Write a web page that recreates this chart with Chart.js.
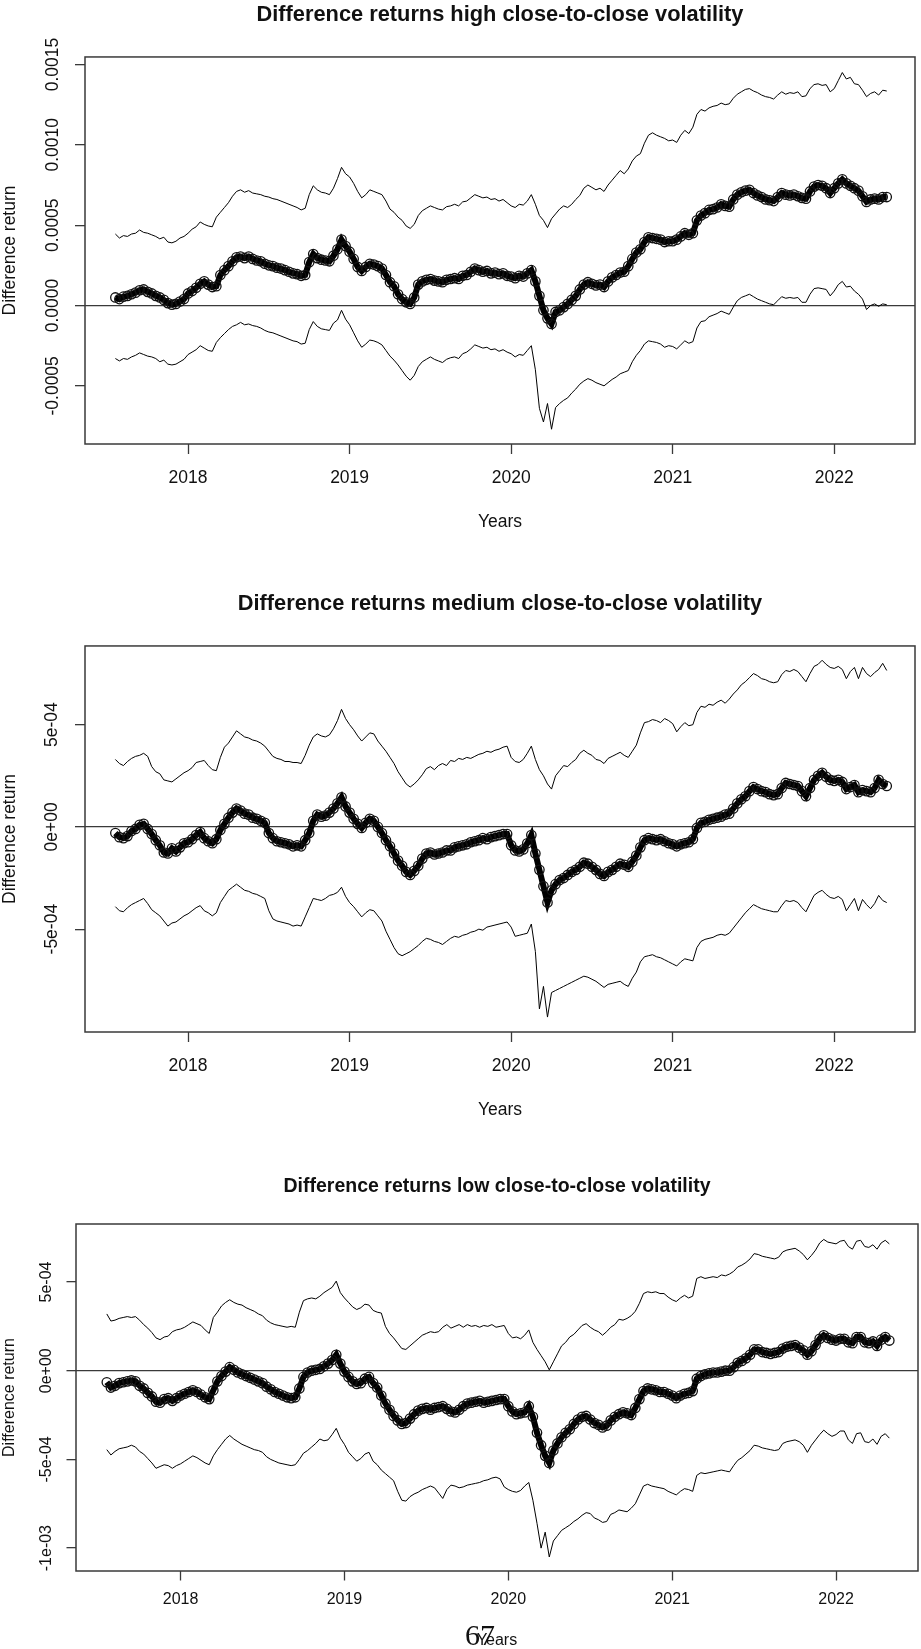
<!DOCTYPE html>
<html>
<head>
<meta charset="utf-8">
<title>Difference returns by close-to-close volatility</title>
<script src="https://cdn.jsdelivr.net/npm/chart.js@4.4.1/dist/chart.umd.min.js"></script>
<style>
  html, body { margin: 0; padding: 0; background: #fff; width: 921px; height: 1649px; overflow: hidden; }
  canvas { position: absolute; left: 0; }
  #chartHigh { top: 0; }
  #chartMed { top: 580px; }
  #chartLow { top: 1160px; }
  .page-no { position: absolute; left: 465px; top: 1620px; font-family: 'Liberation Serif', 'DejaVu Serif', serif; font-size: 30px; line-height: 30px; color: #111; }
</style>
</head>
<body>
<canvas id="chartHigh" width="921" height="560"></canvas>
<canvas id="chartMed" width="921" height="560"></canvas>
<canvas id="chartLow" width="924" height="495"></canvas>
<div class="page-no">67</div>
<script>
// Time axis: regular sampling in decimal years
const START_YEAR = 2017.55;
const STEP_YEARS = 0.025;
const YEAR_TICKS = [2018, 2019, 2020, 2021, 2022];

// All series values below are written in units of 1e-4
const UNIT = 1e-4;

// ---- High close-to-close volatility ----
const HIGH_UPPER = [
  4.45, 4.2, 4.35, 4.3, 4.45, 4.5, 4.7, 4.55, 4.5, 4.4, 4.3, 4.15, 4.25, 3.95, 3.9, 4.0, 4.2, 4.3,
  4.5, 4.75, 4.9, 5.2, 5.05, 4.95, 4.9, 5.5, 5.8, 6.1, 6.4, 6.8, 7.1, 7.2, 7.05, 7.15, 7.0, 6.95, 6.9, 6.8, 6.75, 6.65, 6.6, 6.5, 6.4, 6.3, 6.2, 6.1, 5.95, 6.05, 6.9, 7.45, 7.2, 7.05, 7.0, 6.9, 7.3, 7.9, 8.6, 8.2,
  8.0, 7.6, 7.1, 6.7, 6.9, 7.2, 7.1, 7.0, 6.9, 6.5, 6.0, 5.8, 5.5, 5.3, 4.95, 4.8, 5.05, 5.6, 5.9, 6.05, 6.2, 6.1, 6.0, 5.95, 6.15, 6.2, 6.3, 6.2, 6.45, 6.5, 6.7, 6.9, 6.8, 6.7, 6.75, 6.6, 6.65, 6.5, 6.6, 6.4,
  6.2, 6.1, 6.3, 6.25, 6.5, 6.9, 6.3, 5.6, 5.3, 4.85, 5.4, 5.7, 6.0, 6.2, 6.1, 6.3, 6.6, 6.85, 7.3, 7.5, 7.35, 7.2, 7.3, 7.1, 7.5, 7.8, 8.1, 8.4, 8.2, 8.5, 9.0, 9.3, 9.45, 10.1, 10.6, 10.75, 10.6, 10.5, 10.4, 10.25,
  10.3, 10.15, 10.6, 10.9, 10.7, 11.1, 11.9, 12.2, 12.1, 12.3, 12.4, 12.45, 12.6, 12.5, 12.55, 12.9, 13.15, 13.3, 13.45, 13.5, 13.35, 13.25, 13.1, 13.0, 12.95, 12.85, 13.1, 13.3, 13.15, 13.25, 13.2, 13.3, 13.0, 13.05, 13.5, 13.75, 13.8, 13.7, 13.75, 13.3,
  13.5, 14.0, 14.5, 14.1, 14.2, 13.8, 13.75, 13.4, 13.0, 13.2, 13.3, 13.1, 13.4, 13.35
];
const HIGH_MID = [
  0.5, 0.4, 0.55, 0.6, 0.7, 0.8, 0.95, 1.0, 0.85, 0.75, 0.6, 0.5, 0.35, 0.15, 0.05, 0.1, 0.25, 0.4,
  0.75, 0.9, 1.1, 1.35, 1.5, 1.3, 1.15, 1.2, 1.9, 2.2, 2.45, 2.75, 3.0, 3.05, 2.95, 3.05, 2.9, 2.8, 2.75, 2.6, 2.5, 2.45, 2.35, 2.3, 2.2, 2.1, 2.0, 1.95, 1.85, 1.9, 2.7, 3.2, 2.95, 2.85, 2.8, 2.75, 3.1, 3.5, 4.1, 3.7,
  3.35, 2.9, 2.4, 2.15, 2.4, 2.6, 2.55, 2.45, 2.3, 1.9, 1.45, 1.2, 0.7, 0.4, 0.2, 0.1, 0.5, 1.3, 1.5, 1.6, 1.65, 1.55, 1.5, 1.45, 1.6, 1.65, 1.7, 1.65, 1.85, 1.9, 2.1, 2.3, 2.2, 2.1, 2.15, 2.0, 2.05, 1.95, 2.0, 1.85,
  1.8, 1.7, 1.85, 1.8, 2.0, 2.2, 1.5, 0.6, -0.3, -0.8, -1.15, -0.4, -0.3, -0.1, 0.1, 0.35, 0.6, 1.0, 1.3, 1.45, 1.35, 1.25, 1.3, 1.15, 1.5, 1.75, 1.9, 2.05, 2.1, 2.45, 2.9, 3.3, 3.5, 3.95, 4.25, 4.2, 4.15, 4.1, 3.95, 4.0,
  4.0, 4.1, 4.3, 4.5, 4.4, 4.5, 5.3, 5.6, 5.75, 5.95, 6.0, 6.1, 6.3, 6.2, 6.15, 6.6, 6.9, 7.05, 7.15, 7.2, 7.0, 6.85, 6.75, 6.6, 6.55, 6.5, 6.75, 7.0, 6.9, 6.85, 6.9, 6.8, 6.7, 6.65, 7.1, 7.4, 7.5, 7.45, 7.3, 7.0,
  7.3, 7.6, 7.85, 7.6, 7.45, 7.3, 7.15, 6.8, 6.45, 6.6, 6.65, 6.6, 6.75, 6.75
];
const HIGH_LOWER = [
  -3.3, -3.45, -3.3, -3.35, -3.2, -3.1, -2.95, -3.05, -3.15, -3.2, -3.3, -3.5, -3.4, -3.65, -3.7, -3.65, -3.5, -3.35,
  -3.05, -2.9, -2.75, -2.5, -2.65, -2.8, -2.85, -2.3, -2.0, -1.75, -1.5, -1.3, -1.2, -1.05, -1.2, -1.15, -1.25, -1.3, -1.4, -1.55, -1.65, -1.7, -1.8, -1.9, -2.0, -2.1, -2.2, -2.25, -2.4, -2.35, -1.5, -1.0, -1.3, -1.45, -1.5, -1.55, -1.1, -0.9, -0.3, -0.85,
  -1.2, -1.7, -2.2, -2.6, -2.4, -2.15, -2.2, -2.3, -2.45, -2.8, -3.15, -3.4, -3.7, -4.05, -4.4, -4.65, -4.35, -3.8, -3.5, -3.35, -3.2, -3.35, -3.45, -3.55, -3.35, -3.25, -3.2, -3.3, -3.0, -2.9, -2.7, -2.45, -2.55, -2.65, -2.6, -2.75, -2.7, -2.85, -2.75, -2.9,
  -3.0, -3.2, -3.05, -3.1, -2.8, -2.5, -4.0, -6.4, -7.25, -6.1, -7.7, -6.35, -6.1, -5.9, -5.75, -5.45, -5.2, -4.9, -4.7, -4.55, -4.65, -4.8, -4.9, -5.0, -4.8, -4.6, -4.45, -4.25, -4.15, -4.05, -3.5, -3.1, -2.8, -2.4, -2.2, -2.25, -2.3, -2.4, -2.6, -2.5,
  -2.55, -2.7, -2.45, -2.2, -2.35, -2.25, -1.4, -1.0, -0.95, -0.7, -0.6, -0.5, -0.35, -0.45, -0.55, -0.1, 0.3, 0.5, 0.6, 0.7, 0.55, 0.4, 0.3, 0.2, 0.1, 0.05, 0.3, 0.55, 0.45, 0.5, 0.45, 0.5, 0.2, 0.2, 0.7, 1.05, 1.1, 1.05, 1.0, 0.6,
  0.9, 1.3, 1.5, 1.15, 1.2, 0.9, 0.7, 0.4, -0.25, 0.0, 0.1, -0.05, 0.1, 0.05
];
const HIGH_Y_TICKS = [-0.0005, 0, 0.0005, 0.001, 0.0015];
const HIGH_Y_LABELS = ['-0.0005', '0.0000', '0.0005', '0.0010', '0.0015'];

// ---- Medium close-to-close volatility ----
const MED_UPPER = [
  3.3, 3.1, 3.0, 3.2, 3.35, 3.45, 3.5, 3.6, 3.45, 2.95, 2.7, 2.6, 2.3, 2.25, 2.2, 2.35, 2.5, 2.65,
  2.75, 2.9, 3.15, 3.2, 3.25, 3.0, 2.8, 2.75, 3.4, 3.9, 4.1, 4.4, 4.7, 4.55, 4.4, 4.35, 4.25, 4.2, 4.1, 3.95, 3.7, 3.45, 3.35, 3.3, 3.2, 3.2, 3.15, 3.15, 3.1, 3.5, 4.0, 4.4, 4.55, 4.45, 4.4, 4.5, 4.8, 5.2, 5.75, 5.3,
  5.0, 4.75, 4.45, 4.2, 4.4, 4.6, 4.55, 4.2, 3.95, 3.7, 3.4, 3.1, 2.7, 2.4, 2.1, 1.95, 2.1, 2.3, 2.55, 2.85, 2.95, 2.8, 3.0, 3.1, 3.0, 3.25, 3.2, 3.35, 3.3, 3.4, 3.35, 3.45, 3.55, 3.6, 3.7, 3.65, 3.75, 3.8, 3.9, 3.95,
  3.4, 3.2, 3.15, 3.3, 3.6, 3.95, 3.3, 2.8, 2.5, 2.1, 1.85, 2.5, 2.75, 3.0, 2.95, 3.15, 3.3, 3.6, 3.75, 3.6, 3.5, 3.3, 3.25, 3.1, 3.35, 3.45, 3.55, 3.65, 3.5, 3.4, 3.7, 4.0, 4.6, 5.1, 5.15, 5.25, 5.2, 5.1, 5.3, 5.2,
  5.05, 4.65, 4.9, 5.1, 4.95, 5.0, 5.6, 5.9, 5.85, 6.0, 5.95, 6.1, 6.2, 6.05, 6.25, 6.5, 6.7, 6.95, 7.1, 7.3, 7.5, 7.4, 7.25, 7.2, 7.1, 7.05, 7.1, 7.45, 7.65, 7.6, 7.7, 7.6, 7.35, 7.1, 7.5, 7.85, 7.95, 8.15, 7.95, 7.8,
  7.75, 7.85, 7.7, 7.25, 7.6, 7.8, 7.25, 7.8, 7.5, 7.35, 7.55, 7.7, 8.0, 7.65
];
const MED_MID = [
  -0.3, -0.5, -0.55, -0.45, -0.2, -0.1, 0.1, 0.15, -0.1, -0.35, -0.65, -0.9, -1.25, -1.3, -1.05, -1.2, -1.0, -0.8,
  -0.75, -0.6, -0.4, -0.25, -0.55, -0.7, -0.8, -0.6, -0.15, 0.15, 0.45, 0.7, 0.9, 0.8, 0.65, 0.6, 0.45, 0.4, 0.3, 0.2, -0.3, -0.55, -0.7, -0.75, -0.8, -0.85, -0.95, -0.9, -0.95, -0.65, -0.3, 0.3, 0.6, 0.5, 0.55, 0.7, 0.9, 1.15, 1.45, 1.0,
  0.7, 0.4, 0.15, -0.05, 0.2, 0.4, 0.3, 0.0, -0.3, -0.65, -0.95, -1.3, -1.65, -1.9, -2.2, -2.35, -2.15, -1.9, -1.55, -1.3, -1.25, -1.35, -1.3, -1.25, -1.15, -1.15, -1.0, -0.95, -0.9, -0.85, -0.75, -0.7, -0.65, -0.55, -0.6, -0.5, -0.45, -0.4, -0.35, -0.35,
  -0.9, -1.15, -1.2, -1.1, -0.8, -0.4, -1.3, -2.1, -2.9, -3.7, -3.1, -2.8, -2.6, -2.5, -2.35, -2.2, -2.1, -1.95, -1.75, -1.8, -1.95, -2.1, -2.3, -2.4, -2.2, -2.1, -1.95, -1.8, -1.85, -1.95, -1.7, -1.4, -1.0, -0.65, -0.55, -0.6, -0.65, -0.6, -0.7, -0.8,
  -0.85, -0.95, -0.85, -0.8, -0.75, -0.6, -0.05, 0.2, 0.25, 0.35, 0.4, 0.45, 0.5, 0.6, 0.65, 0.9, 1.15, 1.35, 1.5, 1.75, 1.95, 1.85, 1.75, 1.7, 1.6, 1.55, 1.6, 1.9, 2.15, 2.1, 2.05, 2.0, 1.75, 1.5, 1.9, 2.3, 2.5, 2.65, 2.45, 2.3,
  2.25, 2.3, 2.2, 1.85, 1.95, 2.05, 1.7, 1.8, 1.75, 1.7, 1.9, 2.3, 2.1, 2.0
];
const MED_LOWER = [
  -3.9, -4.1, -4.15, -3.95, -3.8, -3.7, -3.6, -3.5, -3.75, -4.05, -4.2, -4.35, -4.6, -4.85, -4.7, -4.65, -4.5, -4.35,
  -4.25, -4.1, -3.95, -3.85, -4.1, -4.2, -4.35, -4.2, -3.7, -3.4, -3.1, -2.95, -2.8, -2.95, -3.1, -3.15, -3.25, -3.3, -3.4, -3.5, -4.1, -4.5, -4.6, -4.65, -4.7, -4.75, -4.85, -4.8, -4.85, -4.4, -3.95, -3.5, -3.55, -3.6, -3.5, -3.35, -3.3, -3.2, -2.95, -3.4,
  -3.7, -3.9, -4.15, -4.4, -4.2, -4.05, -4.1, -4.35, -4.6, -5.1, -5.5, -5.9, -6.2, -6.3, -6.2, -6.1, -5.95, -5.8, -5.6, -5.45, -5.5, -5.6, -5.65, -5.75, -5.6, -5.45, -5.35, -5.4, -5.3, -5.25, -5.15, -5.1, -5.0, -5.05, -4.9, -4.85, -4.8, -4.75, -4.7, -4.65,
  -4.9, -5.35, -5.3, -5.25, -5.2, -4.75, -6.1, -8.9, -7.8, -9.3, -8.1, -8.0, -7.9, -7.8, -7.7, -7.6, -7.5, -7.4, -7.3, -7.35, -7.45, -7.55, -7.7, -7.85, -7.7, -7.65, -7.6, -7.55, -7.7, -7.8, -7.4, -7.1, -6.6, -6.35, -6.3, -6.25, -6.35, -6.4, -6.5, -6.6,
  -6.7, -6.8, -6.6, -6.45, -6.5, -6.55, -5.9, -5.6, -5.5, -5.45, -5.4, -5.3, -5.25, -5.3, -5.2, -4.95, -4.7, -4.45, -4.2, -4.0, -3.8, -3.9, -4.0, -4.05, -4.1, -4.15, -4.15, -3.85, -3.6, -3.65, -3.6, -3.7, -3.95, -4.15, -3.75, -3.35, -3.2, -3.1, -3.3, -3.45,
  -3.5, -3.4, -3.55, -4.1, -3.8, -3.5, -4.1, -3.55, -3.8, -4.0, -3.75, -3.35, -3.6, -3.7
];
const MED_Y_TICKS = [-0.0005, 0, 0.0005];
const MED_Y_LABELS = ['-5e-04', '0e+00', '5e-04'];

// ---- Low close-to-close volatility ----
const LOW_UPPER = [
  3.2, 2.8, 2.85, 2.95, 3.0, 3.05, 3.0, 3.05, 2.85, 2.6, 2.4, 2.15, 1.85, 1.75, 1.9, 1.95, 2.2, 2.3,
  2.35, 2.45, 2.6, 2.75, 2.65, 2.55, 2.3, 2.1, 3.0, 3.3, 3.65, 3.85, 4.0, 3.85, 3.75, 3.7, 3.55, 3.45, 3.35, 3.2, 3.1, 2.85, 2.7, 2.6, 2.55, 2.5, 2.45, 2.5, 2.45, 3.3, 3.95, 4.05, 4.1, 4.05, 4.2, 4.4, 4.55, 4.7, 5.05, 4.4,
  4.1, 3.85, 3.6, 3.45, 3.55, 3.75, 3.7, 3.4, 3.3, 3.25, 2.5, 2.1, 1.85, 1.55, 1.25, 1.2, 1.4, 1.6, 1.8, 2.0, 2.1, 2.2, 2.15, 2.2, 2.45, 2.6, 2.4, 2.5, 2.6, 2.45, 2.6, 2.5, 2.55, 2.45, 2.55, 2.5, 2.6, 2.45, 2.5, 2.55,
  2.1, 1.85, 1.9, 1.8, 2.0, 2.3, 1.6, 1.2, 0.85, 0.5, 0.05, 0.5, 0.95, 1.4, 1.6, 1.9, 2.05, 2.3, 2.55, 2.65, 2.45, 2.3, 2.2, 2.0, 2.2, 2.45, 2.6, 2.9, 2.85, 2.95, 3.1, 3.35, 3.8, 4.35, 4.45, 4.4, 4.45, 4.35, 4.35, 4.15,
  4.0, 3.9, 4.1, 4.25, 4.1, 4.2, 5.2, 5.3, 5.2, 5.25, 5.3, 5.25, 5.4, 5.35, 5.45, 5.6, 5.85, 5.95, 6.1, 6.3, 6.6, 6.55, 6.45, 6.4, 6.35, 6.3, 6.4, 6.7, 6.8, 6.85, 6.9, 6.75, 6.55, 6.25, 6.5, 6.8, 7.2, 7.4, 7.25, 7.2,
  7.15, 7.3, 7.35, 7.0, 6.85, 7.3, 7.35, 7.0, 6.95, 7.1, 6.85, 7.2, 7.35, 7.15
];
const LOW_MID = [
  -0.65, -0.95, -0.85, -0.7, -0.65, -0.6, -0.55, -0.6, -0.85, -1.0, -1.25, -1.45, -1.75, -1.8, -1.6, -1.55, -1.7, -1.55,
  -1.4, -1.3, -1.2, -1.1, -1.2, -1.35, -1.5, -1.6, -1.1, -0.6, -0.3, -0.05, 0.2, 0.05, -0.1, -0.2, -0.3, -0.4, -0.5, -0.6, -0.7, -0.9, -1.05, -1.2, -1.3, -1.4, -1.5, -1.55, -1.5, -1.0, -0.35, -0.1, 0.0, 0.05, 0.1, 0.25, 0.4, 0.6, 0.9, 0.4,
  -0.05, -0.35, -0.6, -0.75, -0.7, -0.45, -0.35, -0.7, -0.95, -1.4, -1.85, -2.2, -2.55, -2.8, -3.0, -2.95, -2.7, -2.45, -2.25, -2.15, -2.1, -2.2, -2.1, -2.05, -2.0, -2.15, -2.3, -2.35, -2.2, -2.0, -1.85, -1.8, -1.75, -1.7, -1.8, -1.75, -1.7, -1.65, -1.6, -1.6,
  -2.0, -2.3, -2.45, -2.4, -2.35, -2.0, -2.6, -3.5, -4.2, -4.8, -5.2, -4.5, -4.1, -3.75, -3.5, -3.3, -3.0, -2.75, -2.6, -2.55, -2.75, -2.95, -3.05, -3.2, -3.1, -2.8, -2.6, -2.45, -2.35, -2.4, -2.5, -2.1, -1.6, -1.15, -1.0, -1.05, -1.1, -1.2, -1.2, -1.3,
  -1.4, -1.55, -1.4, -1.3, -1.25, -1.15, -0.45, -0.3, -0.2, -0.15, -0.1, -0.1, -0.05, 0.0, 0.0, 0.2, 0.45, 0.55, 0.7, 0.9, 1.2, 1.2, 1.05, 1.0, 0.95, 1.0, 1.05, 1.25, 1.35, 1.4, 1.45, 1.3, 1.15, 0.9, 1.1, 1.45, 1.8, 2.0, 1.85, 1.75,
  1.7, 1.8, 1.8, 1.6, 1.55, 1.9, 1.9, 1.6, 1.55, 1.65, 1.4, 1.75, 1.9, 1.7
];
const LOW_LOWER = [
  -4.45, -4.75, -4.55, -4.4, -4.35, -4.3, -4.2, -4.3, -4.55, -4.7, -4.95, -5.2, -5.5, -5.4, -5.3, -5.35, -5.5, -5.35,
  -5.25, -5.1, -4.95, -4.8, -4.9, -5.05, -5.2, -5.3, -4.8, -4.45, -4.15, -3.85, -3.65, -3.85, -4.0, -4.15, -4.25, -4.35, -4.45, -4.5, -4.6, -4.85, -5.0, -5.1, -5.2, -5.25, -5.3, -5.35, -5.3, -5.0, -4.65, -4.5, -4.3, -4.1, -3.85, -3.95, -3.9, -3.6, -3.25, -3.8,
  -4.15, -4.6, -4.85, -5.1, -4.95, -4.7, -4.6, -5.1, -5.3, -5.6, -5.8, -6.0, -6.2, -6.8, -7.3, -7.35, -7.1, -6.95, -6.85, -6.7, -6.6, -6.5, -6.6, -6.9, -7.2, -6.7, -6.45, -6.5, -6.6, -6.55, -6.45, -6.4, -6.35, -6.3, -6.2, -6.15, -6.05, -6.0, -6.1, -6.55,
  -6.7, -6.8, -6.85, -6.75, -6.5, -6.3, -7.3, -8.6, -10.0, -9.1, -10.5, -9.6, -9.3, -9.0, -8.85, -8.7, -8.5, -8.35, -8.15, -8.0, -8.05, -8.3, -8.4, -8.55, -8.5, -8.1, -8.0, -7.85, -7.9, -7.95, -7.75, -7.5, -7.0, -6.5, -6.4, -6.5, -6.55, -6.6, -6.65, -6.8,
  -6.9, -7.0, -6.8, -6.65, -6.7, -6.8, -5.9, -5.75, -5.8, -5.75, -5.7, -5.65, -5.6, -5.65, -5.7, -5.35, -5.05, -4.9, -4.7, -4.5, -4.2, -4.25, -4.35, -4.4, -4.45, -4.5, -4.45, -4.1, -4.0, -3.95, -3.9, -4.0, -4.2, -4.6, -4.2, -3.9, -3.6, -3.35, -3.55, -3.7,
  -3.6, -3.4, -3.4, -3.9, -4.1, -3.55, -3.5, -4.0, -4.05, -3.85, -4.15, -3.7, -3.55, -3.8
];
const LOW_Y_TICKS = [-0.001, -0.0005, 0, 0.0005];
const LOW_Y_LABELS = ['-1e-03', '-5e-04', '0e+00', '5e-04'];

const FONT = "'Liberation Sans', Arial, Helvetica, sans-serif";
const INK = '#111';
const AXIS_INK = '#3a3a3a';

// Draws the rotated y tick labels next to the library's own y ticks
const yTickLabels = {
  id: 'yTickLabels',
  afterDraw(chart, args, opts) {
    const { ctx, chartArea } = chart;
    const scale = chart.scales.y;
    ctx.save();
    ctx.font = opts.size + 'px ' + FONT;
    ctx.fillStyle = INK;
    ctx.textAlign = 'center';
    ctx.textBaseline = 'middle';
    scale.ticks.forEach((t, i) => {
      const py = scale.getPixelForValue(t.value);
      ctx.save();
      ctx.translate(chartArea.left - opts.offset, py);
      ctx.rotate(-Math.PI / 2);
      ctx.fillText(opts.labels[i], 0, 0);
      ctx.restore();
    });
    ctx.restore();
  }
};

// Frame around the plotting region
const plotBox = {
  id: 'plotBox',
  afterDraw(chart) {
    const { ctx, chartArea: a } = chart;
    ctx.save();
    ctx.strokeStyle = AXIS_INK;
    ctx.lineWidth = 1.5;
    ctx.strokeRect(a.left, a.top, a.right - a.left, a.bottom - a.top);
    ctx.restore();
  }
};

function toPoints(values) {
  return values.map((v, i) => ({ x: START_YEAR + i * STEP_YEARS, y: v * UNIT }));
}

function buildChart(id, p) {
  const tickFont = { family: FONT, size: p.tickSize };
  const lh = p.tickSize * 1.2;
  return new Chart(document.getElementById(id), {
    type: 'line',
    data: {
      datasets: [
        {
          data: toPoints(p.mid),
          borderColor: '#000',
          borderWidth: 6,
          pointRadius: 4.7,
          pointBorderWidth: 1.3,
          pointBorderColor: '#111',
          pointBackgroundColor: 'rgba(0,0,0,0)',
          tension: 0
        },
        { data: toPoints(p.upper), borderColor: '#000', borderWidth: 1, pointRadius: 0, tension: 0 },
        { data: toPoints(p.lower), borderColor: '#000', borderWidth: 1, pointRadius: 0, tension: 0 }
      ]
    },
    options: {
      responsive: false,
      animation: false,
      devicePixelRatio: 1,
      events: [],
      layout: { padding: { left: 0, right: p.padRight, top: 0, bottom: 0 } },
      plugins: {
        legend: { display: false },
        tooltip: { enabled: false },
        title: {
          display: true,
          text: p.title,
          fullSize: false,
          color: INK,
          font: { family: FONT, size: p.titleSize, weight: 'bold' },
          padding: { top: p.titleTop, bottom: p.titleBottom }
        },
        yTickLabels: { labels: p.yLabels, offset: p.yLabelOffset, size: p.tickSize }
      },
      scales: {
        x: {
          type: 'linear',
          min: 2017.362,
          max: 2022.5,
          afterBuildTicks: s => { s.ticks = YEAR_TICKS.map(v => ({ value: v })); },
          afterFit: s => { s.height = p.xAxisHeight; },
          border: { display: false },
          grid: { drawOnChartArea: false, drawTicks: true, tickLength: p.tickLen, tickColor: AXIS_INK, tickWidth: 1.3 },
          ticks: {
            font: tickFont,
            color: INK,
            padding: p.xLabelCenter - p.tickLen - lh / 2,
            maxRotation: 0,
            autoSkip: false,
            callback: v => String(v)
          },
          title: {
            display: true,
            text: 'Years',
            color: INK,
            font: tickFont,
            padding: { top: 0, bottom: p.yearsOffset - lh / 2 }
          }
        },
        y: {
          type: 'linear',
          min: p.yMin,
          max: p.yMax,
          afterBuildTicks: s => { s.ticks = p.yTicks.map(v => ({ value: v })); },
          afterFit: s => { s.width = p.yAxisWidth; },
          border: { display: false },
          grid: {
            drawOnChartArea: true,
            drawTicks: true,
            tickLength: p.tickLen,
            tickColor: AXIS_INK,
            tickWidth: 1.3,
            lineWidth: 1.3,
            color: c => (c.tick && c.tick.value === 0 ? AXIS_INK : 'rgba(0,0,0,0)')
          },
          ticks: { display: false },
          title: {
            display: true,
            text: 'Difference return',
            color: INK,
            font: tickFont,
            padding: { top: 0, bottom: 0 }
          }
        }
      }
    },
    plugins: [yTickLabels, plotBox]
  });
}

buildChart('chartHigh', {
  title: 'Difference returns high close-to-close volatility',
  upper: HIGH_UPPER, mid: HIGH_MID, lower: HIGH_LOWER,
  yMin: -8.62e-4, yMax: 15.47e-4, yTicks: HIGH_Y_TICKS, yLabels: HIGH_Y_LABELS,
  tickSize: 17.5, titleSize: 21.8, titleTop: 2.4, titleBottom: 28.4,
  padRight: 3, yAxisWidth: 85, xAxisHeight: 116, tickLen: 10,
  xLabelCenter: 34, yearsOffset: 38, yLabelOffset: 32
});

buildChart('chartMed', {
  title: 'Difference returns medium close-to-close volatility',
  upper: MED_UPPER, mid: MED_MID, lower: MED_LOWER,
  yMin: -10.03e-4, yMax: 8.85e-4, yTicks: MED_Y_TICKS, yLabels: MED_Y_LABELS,
  tickSize: 17.5, titleSize: 21.8, titleTop: 11.4, titleBottom: 28.4,
  padRight: 3, yAxisWidth: 85, xAxisHeight: 108, tickLen: 10,
  xLabelCenter: 34, yearsOffset: 30, yLabelOffset: 32.5
});

buildChart('chartLow', {
  title: 'Difference returns low close-to-close volatility',
  upper: LOW_UPPER, mid: LOW_MID, lower: LOW_LOWER,
  yMin: -11.29e-4, yMax: 8.27e-4, yTicks: LOW_Y_TICKS, yLabels: LOW_Y_LABELS,
  tickSize: 16, titleSize: 19.5, titleTop: 15.3, titleBottom: 25.3,
  padRight: 2, yAxisWidth: 76, xAxisHeight: 84, tickLen: 9.5,
  xLabelCenter: 29, yearsOffset: 14, yLabelOffset: 29
});
</script>
</body>
</html>
